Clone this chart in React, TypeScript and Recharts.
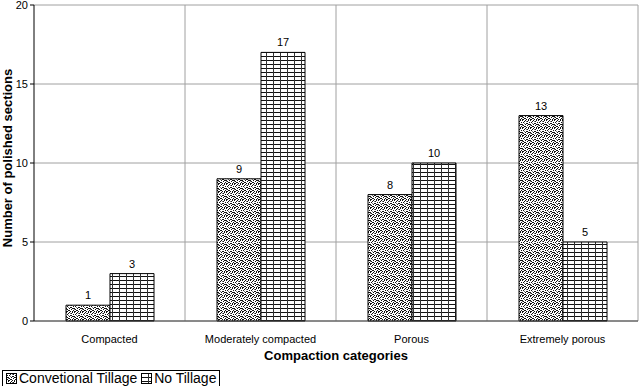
import React from "react";
import {
  Bar,
  BarChart,
  CartesianGrid,
  LabelList,
  XAxis,
  YAxis,
} from "recharts";

const categories = ["Compacted", "Moderately compacted", "Porous", "Extremely porous"];
const conventionalTillage = [1, 9, 8, 13];
const noTillage = [3, 17, 10, 5];
const yTicks = [0, 5, 10, 15, 20];

const data = categories.map((c, i) => ({
  category: c,
  conventional: conventionalTillage[i],
  noTill: noTillage[i],
}));

const FONT = "Liberation Sans, Arial, sans-serif";

// stipple used for the conventional tillage bars
const dots = [
  [0, 0], [2, 0], [5, 0], [7, 1], [1, 2], [3, 2], [4, 1], [6, 3],
  [0, 4], [2, 4], [5, 4], [3, 5], [7, 5], [1, 6], [4, 6], [6, 7],
  [0, 7], [2, 7], [5, 6], [7, 3], [3, 7], [1, 4],
];

function Patterns() {
  return (
    <defs>
      <pattern id="stipple" width={8} height={8} patternUnits="userSpaceOnUse">
        <rect width={8} height={8} fill="#fff" />
        {dots.map(([x, y], i) => (
          <rect key={i} x={x} y={y} width={1} height={1} fill="#111" />
        ))}
        <rect x={6} y={1} width={1} height={1} fill="#777" />
        <rect x={4} y={3} width={1} height={1} fill="#777" />
        <rect x={2} y={5} width={1} height={1} fill="#777" />
      </pattern>
      <pattern id="grid" width={7} height={4} patternUnits="userSpaceOnUse">
        <rect width={7} height={4} fill="#fff" />
        <rect x={0} y={0} width={7} height={1} fill="#111" />
        <rect x={0} y={0} width={1} height={4} fill="#333" />
      </pattern>
    </defs>
  );
}

function LegendBox() {
  const swatch = (fill: string) => (
    <svg width={11} height={11} style={{ marginRight: 2, verticalAlign: -1 }}>
      <rect x={0.5} y={0.5} width={10} height={10} fill={fill} stroke="#000" />
    </svg>
  );
  return (
    <div
      style={{
        position: "absolute",
        left: 2,
        top: 370,
        border: "1px solid #000",
        padding: "0 3px",
        fontFamily: FONT,
        fontSize: 14,
        lineHeight: "15px",
        background: "#fff",
        whiteSpace: "nowrap",
      }}
    >
      {swatch("url(#stipple)")}
      <span>Convetional Tillage</span>{" "}
      {swatch("url(#grid)")}
      <span>No Tillage</span>
    </div>
  );
}

const YLabel = () => (
  <text
    x={12}
    y={158}
    transform="rotate(-90 12 158)"
    textAnchor="middle"
    style={{ fontSize: 13, fontWeight: "bold", fill: "#000", fontFamily: FONT }}
  >
    Number of polished sections
  </text>
);

export default function App() {
  return (
    <div style={{ position: "absolute", left: 0, top: 0, width: 642, height: 386, background: "#fff" }}>
      <BarChart
        width={642}
        height={386}
        data={data}
        margin={{ top: 5, right: 4, bottom: 35, left: 0 }}
        barCategoryGap={32}
        barGap={0}
      >
        <Patterns />
        <CartesianGrid
          stroke="#a0a0a0"
          verticalCoordinatesGenerator={({ offset }: any) =>
            [1, 2, 3, 4].map((i) => offset.left + (i * offset.width) / 4)
          }
        />
        <XAxis
          dataKey="category"
          tickLine={false}
          axisLine={{ stroke: "#444" }}
          tick={{ fontSize: 11, fill: "#000", fontFamily: FONT }}
          tickMargin={8}
          label={{
            value: "Compaction categories",
            position: "insideBottom",
            offset: -9,
            style: { fontSize: 13, fontWeight: "bold", fill: "#000", fontFamily: FONT },
          }}
        />
        <YAxis
          width={34}
          domain={[0, 20]}
          ticks={yTicks}
          interval={0}
          axisLine={{ stroke: "#000" }}
          tickLine={{ stroke: "#000" }}
          tickSize={4}
          tick={{ fontSize: 11, fill: "#000", fontFamily: FONT }}
          label={{ content: () => <YLabel /> }}
        />
        <Bar
          dataKey="conventional"
          name="Convetional Tillage"
          fill="url(#stipple)"
          stroke="#000"
          strokeWidth={1}
          isAnimationActive={false}
        >
          <LabelList dataKey="conventional" position="top" offset={6} style={{ fontSize: 11, fill: "#000", fontFamily: FONT }} />
        </Bar>
        <Bar
          dataKey="noTill"
          name="No Tillage"
          fill="url(#grid)"
          stroke="#000"
          strokeWidth={1}
          isAnimationActive={false}
        >
          <LabelList dataKey="noTill" position="top" offset={6} style={{ fontSize: 11, fill: "#000", fontFamily: FONT }} />
        </Bar>
      </BarChart>
      <LegendBox />
    </div>
  );
}
